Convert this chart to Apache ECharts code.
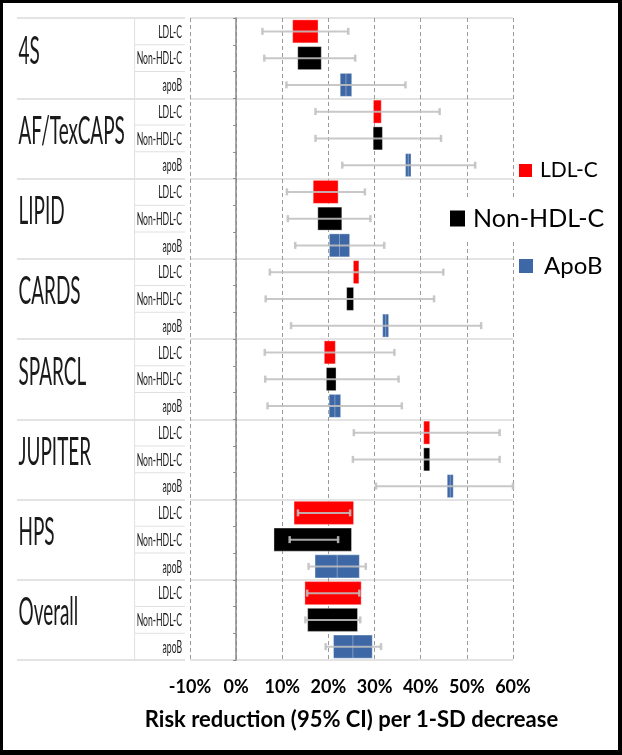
<!DOCTYPE html>
<html><head><meta charset="utf-8">
<script src="https://cdn.jsdelivr.net/npm/echarts@6/dist/echarts.min.js"></script>
<style>
html,body{margin:0;padding:0;background:#fff}
#c{width:622px;height:755px}
#f{position:absolute;left:0;top:0;width:622px;height:755px;box-sizing:border-box;border:3px solid #000;border-right-width:4px;border-bottom-width:5px;pointer-events:none}
</style>
</head><body><div id="c"></div><div id="f"></div>
<script>
// ---- data ----
const studies = ['4S','AF/TexCAPS','LIPID','CARDS','SPARCL','JUPITER','HPS','Overall'];
const measures = ['LDL-C','Non-HDL-C','apoB'];
const seriesNames = ['LDL-C','Non-HDL-C','ApoB'];
const xTickValues = [-10,0,10,20,30,40,50,60];
const axisTitle = 'Risk reduction (95% CI) per 1-SD decrease';

// point estimate, lower CI, upper CI, box width (weight) in % points
const ldlEst  = [15.0,30.6,19.4,26.0,20.3,41.3,19.0,21.0];
const ldlLow  = [5.7,17.2,11.0,7.3,6.2,25.5,13.4,15.4];
const ldlHigh = [24.3,44.1,27.9,44.9,34.3,57.1,24.7,26.7];
const ldlW    = [5.5,1.7,5.4,1.2,2.4,1.3,12.9,12.2];

const nonEst  = [15.9,30.7,20.3,24.7,20.6,41.3,16.6,20.9];
const nonLow  = [6.1,17.2,11.2,6.4,6.3,25.3,11.6,15.0];
const nonHigh = [25.8,44.4,29.1,42.9,35.2,57.1,22.1,26.9];
const nonW    = [5.1,2.0,5.2,1.5,2.1,1.3,16.8,10.8];

const apoEst  = [23.8,37.3,22.4,32.4,21.4,46.4,21.9,25.3];
const apoLow  = [10.9,23.0,12.8,11.9,6.8,30.3,15.7,19.4];
const apoHigh = [36.7,51.8,32.1,53.1,35.9,60.0,28.1,31.4];
const apoW    = [2.5,1.2,4.4,1.3,2.5,1.3,9.6,8.4];

const colors = ['#ff0000','#000000','#3d67a5'];

// ---- derived ----
const rowLabels = [];
studies.forEach(s => measures.forEach(m => rowLabels.push(s + ' ' + m)));
function build(est, lo, hi, w, m) {
  return est.map((e, i) => [e, lo[i], hi[i], w[i], 3 * i + m]);
}
const sets = [
  build(ldlEst, ldlLow, ldlHigh, ldlW, 0),
  build(nonEst, nonLow, nonHigh, nonW, 1),
  build(apoEst, apoLow, apoHigh, apoW, 2)
];

function forestRender(color, divider) {
  return function (params, api) {
    const est = api.value(0), lo = api.value(1), hi = api.value(2), w = api.value(3), row = api.value(4);
    const c = api.coord([est, row]);
    const l = api.coord([est - w / 2, row])[0];
    const r = api.coord([est + w / 2, row])[0];
    const h = api.size([0, 1])[1] * 0.86;
    const a = api.coord([lo, row])[0];
    const b = api.coord([hi, row])[0];
    const eb = 'rgba(192,192,192,0.88)';
    const ch = [{
      type: 'rect',
      shape: { x: l, y: c[1] - h / 2, width: r - l, height: h },
      style: { fill: color, stroke: 'rgba(255,255,255,0.35)', lineWidth: 1 }
    }];
    if (divider) {
      ch.push({ type: 'line', shape: { x1: c[0], y1: c[1] - h / 2, x2: c[0], y2: c[1] + h / 2 },
        style: { stroke: 'rgba(255,255,255,0.35)', lineWidth: 1 } });
    }
    ch.push({ type: 'line', shape: { x1: a, y1: c[1], x2: b, y2: c[1] }, style: { stroke: eb, lineWidth: 2 } });
    ch.push({ type: 'line', shape: { x1: a, y1: c[1] - 3.5, x2: a, y2: c[1] + 3.5 }, style: { stroke: eb, lineWidth: 2.5 } });
    ch.push({ type: 'line', shape: { x1: b, y1: c[1] - 3.5, x2: b, y2: c[1] + 3.5 }, style: { stroke: eb, lineWidth: 2.5 } });
    return { type: 'group', children: ch };
  };
}

function subLabelRender(params, api) {
  const i = api.value(0);
  const p = api.coord([0, i]);
  const xr = api.coord([1, i])[0];
  const rowH = api.size([0, 1])[1];
  const xDiv = p[0] + (xr - p[0]) * 0.70;
  const ch = [
    { type: 'line', shape: { x1: xDiv, y1: p[1] - rowH / 2, x2: xDiv, y2: p[1] + rowH / 2 },
      style: { stroke: '#e0e0e0', lineWidth: 1 } },
    { type: 'text', x: xr - 3, y: p[1] + 0.5, scaleX: 0.72, scaleY: 1.5,
      style: { text: measures[i % 3], fill: '#1a1a1a', font: '12px Lato', align: 'right', verticalAlign: 'middle' } }
  ];
  if (i % 3 !== 2) {
    ch.push({ type: 'line', shape: { x1: xDiv, y1: p[1] + rowH / 2, x2: xr, y2: p[1] + rowH / 2 },
      style: { stroke: '#e0e0e0', lineWidth: 1 } });
  }
  return { type: 'group', children: ch };
}
function studyLabelRender(params, api) {
  const g = api.value(0);
  const p = api.coord([0, g]);
  return { type: 'text', x: p[0] + 1.5, y: p[1] - 7, scaleX: 0.79, scaleY: 1.62,
    style: { text: studies[g], fill: '#1a1a1a', font: '24px Lato', align: 'left', verticalAlign: 'middle' } };
}

const chart = echarts.init(document.getElementById('c'));
const series = sets.map((d, m) => ({
  name: seriesNames[m], type: 'custom', xAxisIndex: 0, yAxisIndex: 0,
  itemStyle: { color: colors[m] }, data: d, encode: { x: [0, 1, 2], y: 4 },
  renderItem: forestRender(colors[m], m === 2), z: 3
}));
series.push({
  type: 'custom', xAxisIndex: 1, yAxisIndex: 2, silent: true,
  data: rowLabels.map((_, i) => [i]), encode: { y: 0 }, renderItem: subLabelRender
});
series.push({
  type: 'custom', xAxisIndex: 1, yAxisIndex: 3, silent: true,
  data: studies.map((_, i) => [i]), encode: { y: 0 }, renderItem: studyLabelRender
});

const legendBase = { icon: 'rect', orient: 'vertical', itemGap: 0, selectedMode: false };
chart.setOption({
  animation: false,
  backgroundColor: '#fff',
  grid: [
    { left: 190, right: 109, top: 18, bottom: 95 },
    { left: 17, width: 168, top: 18, bottom: 95 }
  ],
  xAxis: [
    { type: 'value', gridIndex: 0, min: -10, max: 60, interval: 10,
      axisLine: { show: false }, axisTick: { show: false },
      splitLine: { show: true, lineStyle: { color: '#9a9a9a', type: [4, 3], width: 1 } },
      axisLabel: { formatter: v => xTickValues.includes(v) ? v + '%' : '', fontFamily: 'Lato', fontWeight: 'bold', fontSize: 18, color: '#000', margin: 18 },
      name: axisTitle, nameLocation: 'middle', nameGap: 49,
      nameTextStyle: { fontFamily: 'Lato', fontWeight: 'bold', fontSize: 22, color: '#000' } },
    { type: 'value', gridIndex: 1, min: 0, max: 1, show: false }
  ],
  yAxis: [
    { type: 'category', gridIndex: 0, data: rowLabels, inverse: true,
      axisLine: { show: true, onZero: true, lineStyle: { color: '#8a8a8a', width: 1.5 } },
      axisTick: { show: true, interval: 0, length: 3, lineStyle: { color: '#8a8a8a' } },
      axisLabel: { show: false }, splitLine: { show: false } },
    { type: 'category', gridIndex: 0, data: studies, inverse: true,
      axisLine: { show: false }, axisTick: { show: false }, axisLabel: { show: false },
      splitLine: { show: true, interval: 0, lineStyle: { color: '#dadada', width: 1.5 } } },
    { type: 'category', gridIndex: 1, data: rowLabels, inverse: true, show: false },
    { type: 'category', gridIndex: 1, data: studies, inverse: true,
      axisLine: { show: false }, axisTick: { show: false }, axisLabel: { show: false },
      splitLine: { show: true, interval: 0, lineStyle: { color: '#dadada', width: 1.5 } } }
  ],
  legend: [
    Object.assign({}, legendBase, { data: [seriesNames[0]], left: 519, top: 160, padding: 0,
      itemWidth: 13, itemHeight: 13,
      textStyle: { fontFamily: 'Lato', fontSize: 21, color: '#000', padding: [0, 0, 0, 3] } }),
    Object.assign({}, legendBase, { data: [seriesNames[1]], left: 446, top: 198, padding: [8, 14, 8, 4],
      backgroundColor: '#fff', itemWidth: 15, itemHeight: 16,
      textStyle: { fontFamily: 'Lato', fontSize: 25, color: '#000', padding: [0, 0, 0, 3] } }),
    Object.assign({}, legendBase, { data: [seriesNames[2]], left: 519, top: 254, padding: 0,
      itemWidth: 14, itemHeight: 14,
      textStyle: { fontFamily: 'Lato', fontSize: 24, color: '#000', padding: [0, 0, 0, 6] } })
  ],
  series: series
});
</script>
</body></html>
